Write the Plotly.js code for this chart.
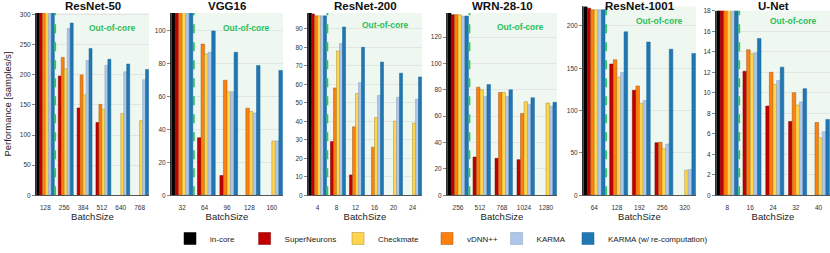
<!DOCTYPE html>
<html>
<head>
<meta charset="utf-8">
<script src="https://cdn.plot.ly/plotly-3.0.1.min.js"></script>
<style>
  html, body { margin: 0; padding: 0; background: #fff; }
  #chart { width: 830px; height: 253px; }
</style>
</head>
<body>
<div id="chart"></div>
<script>
// models and their batch sizes (first one is the in-core batch size)
var models = ['ResNet-50', 'VGG16', 'ResNet-200', 'WRN-28-10', 'ResNet-1001', 'U-Net'];
var batchSizes = [
    ['128', '256', '384', '512', '640', '768'],
    ['32', '64', '96', '128', '160'],
    ['4', '8', '12', '16', '20', '24'],
    ['256', '512', '768', '1024', '1280'],
    ['64', '128', '192', '256', '320'],
    ['8', '16', '24', '32', '40']
];

// performance [samples/s], one list per model (null = not run / failed)
var inCore = [
    [310, null, null, null, null, null],
    [115, null, null, null, null],
    [99, null, null, null, null, null],
    [139, null, null, null, null],
    [223, null, null, null, null],
    [19, null, null, null, null]
];
var superNeurons = [
    [310, 198, 145, 121, null, null],
    [115, 35, 12, null, null],
    [98, 29, 11, null, null, null],
    [137, 29, 28, 27, null],
    [221, 155, 124, 62, null],
    [19, 12.1, 8.7, 7.2, null]
];
var vdnn = [
    [310, 229, 200, 151, null, null],
    [115, 92, 70, 53, null],
    [97, 58, 37, 26, null, null],
    [137, 82, 78, 62, null],
    [219, 160, 129, 62.5, null],
    [19, 14.2, 12.0, 10.0, 7.1]
];
var checkmate = [
    [310, 210, 167, 143, 136, 124],
    [115, 86, 63, 51, 33],
    [97, 78, 55, 42, 40, 39],
    [137, 80, 78, 71, 70],
    [219, 139.5, 108.5, 55, 29.5],
    [19, 13.8, 10.8, 8.8, 5.6]
];
var karma = [
    [310, 277, 224, 216, 205, 192],
    [115, 87, 63, 50, 33],
    [97, 82, 61, 54, 53, 52],
    [136, 75, 75, 69, 67.5],
    [219, 145, 112, 60.5, 30.5],
    [19, 13.9, 11.2, 9.1, 6.2]
];
var karmaRecomp = [
    [310, 286, 244, 226, 218, 209],
    [115, 100, 87, 79, 76],
    [97, 91, 80, 72, 66, 64],
    [136, 84, 80, 74, 70.5],
    [219, 193, 181, 172.5, 167.5],
    [19, 15.3, 12.5, 10.4, 7.4]
];

// bar order inside a group: in-core, SuperNeurons, vDNN++, Checkmate, KARMA, KARMA (w/ re-computation)
var series = [
    {name: 'in-core', values: inCore, color: '#000000', edge: '#000000', legendX: 189},
    {name: 'SuperNeurons', values: superNeurons, color: '#c00000', edge: '#7a0000', legendX: 263.6},
    {name: 'vDNN++', values: vdnn, color: '#ff7f0e', edge: '#9a5a14', legendX: 446},
    {name: 'Checkmate', values: checkmate, color: '#ffd54f', edge: '#a88e2a', legendX: 357},
    {name: 'KARMA', values: karma, color: '#aec7e8', edge: '#8aa0bb', legendX: 515.6},
    {name: 'KARMA (w/ re-computation)', values: karmaRecomp, color: '#1f77b4', edge: '#1a6399', legendX: 587}
];

var W = 830, H = 253;
var xPx = [[36, 149], [171, 283], [308, 422], [447, 557], [583, 696], [716, 830]];
var yTopPx = [14, 14, 14, 14, 7, 11.7];
var yBottomPx = 212;
var yMax = [303, 111, 98.6, 138.4, 223, 18];
var yStep = [50, 20, 10, 20, 50, 2];
var oocTextY = [30, 30, 27, 29, 23, 23];

var font = 'Liberation Sans, Arial, sans-serif';
var data = [];
var layout = {
    width: W, height: H,
    margin: {l: 0, r: 0, t: 0, b: 0},
    paper_bgcolor: '#ffffff',
    plot_bgcolor: '#ffffff',
    barmode: 'group',
    bargap: 0.05,
    bargroupgap: 0,
    font: {family: font, size: 7, color: '#333'},
    shapes: [],
    annotations: []
};

models.forEach(function (model, m) {
    var sfx = m === 0 ? '' : String(m + 1);
    var n = batchSizes[m].length;
    series.forEach(function (s, k) {
        data.push({
            type: 'bar',
            x: batchSizes[m],
            y: s.values[m],
            name: s.name,
            xaxis: 'x' + sfx,
            yaxis: 'y' + sfx,
            marker: {color: s.color, line: {color: s.edge, width: 0.5}},
            showlegend: m === 0,
            legend: k === 0 ? 'legend' : 'legend' + (k + 1),
            hoverinfo: 'x+y+name'
        });
    });

    layout['xaxis' + sfx] = {
        domain: [xPx[m][0] / W, xPx[m][1] / W],
        anchor: 'y' + sfx,
        type: 'category',
        range: [-0.5, n - 0.5],
        showline: true, linecolor: '#555', linewidth: 1,
        ticks: 'outside', ticklen: 6, tickcolor: 'rgba(0,0,0,0)',
        tickfont: {size: 6.5, color: '#333'},
        showgrid: false,
        title: {text: 'BatchSize', font: {size: 9.5, color: '#222'}, standoff: 1}
    };
    layout['yaxis' + sfx] = {
        domain: [1 - yBottomPx / H, 1 - yTopPx[m] / H],
        anchor: 'x' + sfx,
        range: [0, yMax[m]],
        dtick: yStep[m],
        showline: true, linecolor: '#333', linewidth: 1,
        ticks: 'outside', ticklen: 3, tickcolor: '#888',
        tickfont: {size: 6.5, color: '#333'},
        gridcolor: '#e0e0e0', gridwidth: 0.8,
        zeroline: false
    };
    if (m === 0) {
        layout.yaxis.title = {text: 'Performance [samples/s]', font: {size: 9.5, color: '#222'}, standoff: 6};
    }

    // out-of-core region
    layout.shapes.push({
        type: 'rect', xref: 'x' + sfx, yref: 'y' + sfx + ' domain',
        x0: 0.5, x1: n - 0.5, y0: 0, y1: 1,
        fillcolor: '#eef8f1', line: {width: 0}, layer: 'below'
    });
    layout.shapes.push({
        type: 'line', xref: 'x' + sfx, yref: 'y' + sfx + ' domain',
        x0: 0.52, x1: 0.52, y0: 0, y1: 1,
        line: {color: '#2ec45e', width: 1.8, dash: 'dash'}, layer: 'above'
    });
    layout.annotations.push({
        xref: 'x' + sfx + ' domain', yref: 'paper',
        x: 1 - 11 / (xPx[m][1] - xPx[m][0]), y: 1 - oocTextY[m] / H,
        xanchor: 'right', yanchor: 'middle',
        text: '<b>Out-of-core</b>', showarrow: false,
        font: {size: 8.5, color: '#2dbd5a', family: font}
    });
    // panel title
    layout.annotations.push({
        xref: 'paper', yref: 'paper',
        x: (xPx[m][0] + xPx[m][1]) / 2 / W, y: 1 - 6 / H,
        xanchor: 'center', yanchor: 'middle',
        text: '<b>' + model + '</b>', showarrow: false,
        font: {size: 11.5, color: '#111', family: font}
    });
});

// one legend per series so each entry sits where it does in the figure
series.forEach(function (s, k) {
    var key = k === 0 ? 'legend' : 'legend' + (k + 1);
    layout[key] = {
        orientation: 'h',
        x: (s.legendX - 19) / W, xanchor: 'left',
        y: 1 - 259 / H, yanchor: 'middle',
        bgcolor: 'rgba(0,0,0,0)',
        font: {size: 8, color: '#222', family: font}
    };
});

Plotly.newPlot('chart', data, layout, {displayModeBar: false, staticPlot: true});
</script>
</body>
</html>
